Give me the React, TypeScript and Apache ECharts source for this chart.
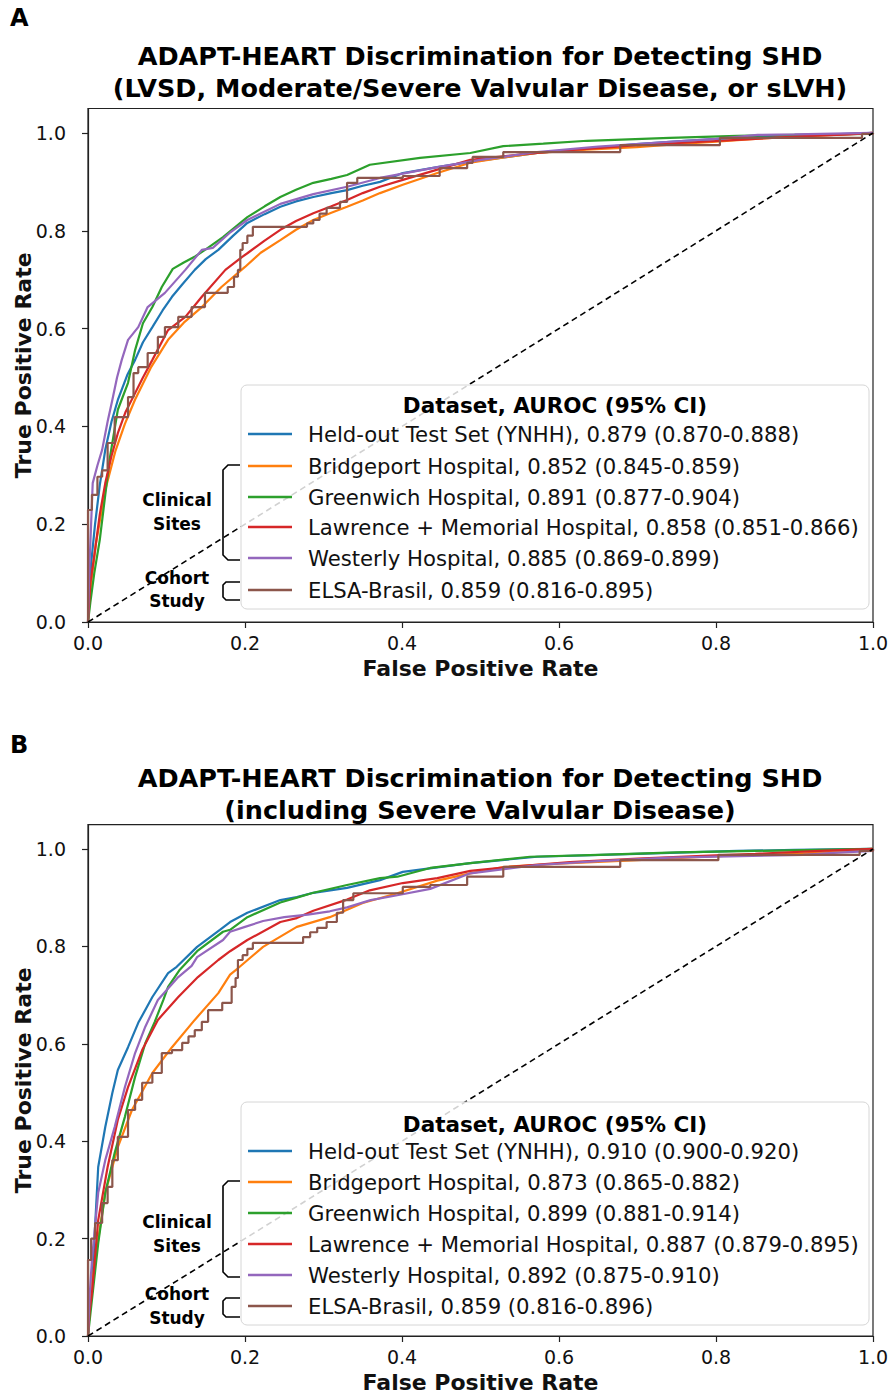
import React, { useEffect, useRef } from "react";
import * as echarts from "echarts";

const FONT = "'DejaVu Sans', sans-serif";

const datasetNames = [
  "Held-out Test Set (YNHH)",
  "Bridgeport Hospital",
  "Greenwich Hospital",
  "Lawrence + Memorial Hospital",
  "Westerly Hospital",
  "ELSA-Brasil",
];
const colors = ["#1f77b4", "#ff7f0e", "#2ca02c", "#d62728", "#9467bd", "#8c564b"];
const aurocA = [
  "0.879 (0.870-0.888)",
  "0.852 (0.845-0.859)",
  "0.891 (0.877-0.904)",
  "0.858 (0.851-0.866)",
  "0.885 (0.869-0.899)",
  "0.859 (0.816-0.895)",
];
const aurocB = [
  "0.910 (0.900-0.920)",
  "0.873 (0.865-0.882)",
  "0.899 (0.881-0.914)",
  "0.887 (0.879-0.895)",
  "0.892 (0.875-0.910)",
  "0.859 (0.816-0.896)",
];
const xTicks = [0, 0.2, 0.4, 0.6, 0.8, 1.0];
const yTicks = [0, 0.2, 0.4, 0.6, 0.8, 1.0];
const diagonal = [[0, 0], [1, 1]];

// Panel A curves [FPR, TPR]
const aHeldOut = [[0,0],[0.004,0.12],[0.009,0.2],[0.015,0.28],[0.022,0.352],[0.030,0.41],[0.038,0.454],[0.050,0.505],[0.060,0.536],[0.070,0.572],[0.082,0.603],[0.095,0.637],[0.107,0.665],[0.120,0.69],[0.136,0.720],[0.150,0.742],[0.166,0.761],[0.185,0.790],[0.203,0.816],[0.225,0.834],[0.245,0.849],[0.265,0.860],[0.287,0.869],[0.31,0.877],[0.33,0.883],[0.35,0.892],[0.372,0.900],[0.401,0.918],[0.445,0.930],[0.487,0.941],[0.53,0.950],[0.572,0.959],[0.635,0.968],[0.699,0.977],[0.76,0.984],[0.827,0.990],[0.9,0.994],[0.95,0.997],[1,1]];
const aBridgeport = [[0,0],[0.004,0.08],[0.010,0.16],[0.022,0.27],[0.035,0.35],[0.047,0.405],[0.060,0.455],[0.080,0.52],[0.102,0.577],[0.122,0.612],[0.145,0.644],[0.17,0.685],[0.2,0.726],[0.22,0.755],[0.245,0.781],[0.265,0.802],[0.287,0.822],[0.31,0.837],[0.33,0.849],[0.35,0.862],[0.372,0.877],[0.401,0.894],[0.445,0.918],[0.487,0.939],[0.53,0.95],[0.572,0.959],[0.635,0.966],[0.699,0.971],[0.75,0.977],[0.8,0.982],[0.85,0.988],[0.9,0.992],[0.95,0.996],[1,1]];
const aGreenwich = [[0,0],[0.003,0.04],[0.008,0.1],[0.015,0.168],[0.022,0.26],[0.028,0.337],[0.038,0.434],[0.051,0.489],[0.060,0.556],[0.070,0.611],[0.082,0.644],[0.094,0.685],[0.108,0.722],[0.122,0.735],[0.137,0.748],[0.150,0.762],[0.172,0.787],[0.203,0.828],[0.225,0.850],[0.245,0.869],[0.265,0.884],[0.287,0.898],[0.31,0.906],[0.33,0.914],[0.359,0.935],[0.423,0.949],[0.487,0.959],[0.529,0.973],[0.58,0.978],[0.636,0.984],[0.741,0.990],[0.827,0.994],[0.9,0.996],[0.996,0.998],[1,1]];
const aLawrence = [[0,0],[0.003,0.08],[0.009,0.147],[0.015,0.22],[0.022,0.284],[0.030,0.34],[0.038,0.386],[0.048,0.43],[0.060,0.468],[0.070,0.5],[0.082,0.536],[0.102,0.597],[0.124,0.624],[0.145,0.665],[0.175,0.720],[0.196,0.746],[0.203,0.754],[0.225,0.78],[0.245,0.802],[0.265,0.82],[0.287,0.836],[0.31,0.85],[0.33,0.863],[0.35,0.877],[0.372,0.890],[0.401,0.904],[0.445,0.925],[0.487,0.945],[0.55,0.956],[0.614,0.965],[0.7,0.975],[0.783,0.982],[0.85,0.988],[0.92,0.994],[0.97,0.997],[1,1]];
const aWesterly = [[0,0],[0.002,0.12],[0.006,0.284],[0.012,0.32],[0.018,0.352],[0.025,0.41],[0.031,0.454],[0.037,0.5],[0.043,0.536],[0.051,0.577],[0.064,0.603],[0.076,0.644],[0.098,0.673],[0.124,0.720],[0.145,0.761],[0.159,0.765],[0.18,0.795],[0.203,0.822],[0.245,0.855],[0.287,0.875],[0.33,0.890],[0.372,0.908],[0.445,0.930],[0.5,0.945],[0.572,0.961],[0.65,0.972],[0.741,0.982],[0.8,0.988],[0.853,0.996],[0.9,0.997],[1,1]];
const aElsa = [[0,0],[0,0.229],[0.005,0.229],[0.005,0.26],[0.012,0.26],[0.012,0.297],[0.018,0.297],[0.018,0.31],[0.025,0.31],[0.025,0.366],[0.034,0.366],[0.034,0.419],[0.051,0.419],[0.051,0.46],[0.058,0.46],[0.058,0.509],[0.064,0.509],[0.064,0.521],[0.076,0.521],[0.076,0.55],[0.089,0.55],[0.089,0.583],[0.098,0.583],[0.098,0.603],[0.115,0.603],[0.115,0.624],[0.132,0.624],[0.132,0.644],[0.149,0.644],[0.149,0.673],[0.178,0.673],[0.178,0.685],[0.186,0.685],[0.186,0.706],[0.191,0.706],[0.191,0.720],[0.194,0.720],[0.194,0.761],[0.197,0.761],[0.197,0.775],[0.203,0.775],[0.203,0.79],[0.21,0.79],[0.21,0.808],[0.279,0.808],[0.279,0.815],[0.287,0.815],[0.287,0.822],[0.295,0.822],[0.295,0.835],[0.304,0.835],[0.304,0.847],[0.321,0.847],[0.321,0.859],[0.33,0.859],[0.33,0.898],[0.343,0.898],[0.343,0.908],[0.401,0.908],[0.401,0.912],[0.448,0.912],[0.448,0.928],[0.483,0.928],[0.483,0.939],[0.49,0.939],[0.49,0.951],[0.529,0.951],[0.529,0.961],[0.678,0.961],[0.678,0.975],[0.805,0.975],[0.805,0.99],[0.986,0.99],[0.986,0.998],[1,0.998],[1,1]];

// Panel B curves [FPR, TPR]
const bHeldOut = [[0,0],[0.002,0.05],[0.005,0.088],[0.009,0.224],[0.013,0.347],[0.022,0.429],[0.031,0.499],[0.038,0.546],[0.051,0.593],[0.064,0.643],[0.082,0.696],[0.102,0.745],[0.113,0.758],[0.139,0.799],[0.168,0.834],[0.181,0.850],[0.203,0.869],[0.245,0.895],[0.266,0.901],[0.287,0.91],[0.33,0.92],[0.372,0.936],[0.401,0.953],[0.445,0.962],[0.487,0.971],[0.572,0.984],[0.699,0.99],[0.827,0.996],[0.9,0.998],[1,1]];
const bBridgeport = [[0,0],[0.003,0.08],[0.009,0.156],[0.022,0.294],[0.038,0.388],[0.056,0.464],[0.082,0.54],[0.107,0.593],[0.136,0.649],[0.166,0.704],[0.181,0.742],[0.191,0.755],[0.223,0.799],[0.266,0.84],[0.308,0.86],[0.35,0.889],[0.394,0.909],[0.445,0.935],[0.487,0.95],[0.529,0.963],[0.6,0.97],[0.699,0.977],[0.8,0.985],[0.9,0.99],[0.95,0.994],[1,1]];
const bGreenwich = [[0,0],[0.002,0.03],[0.005,0.074],[0.013,0.19],[0.022,0.294],[0.034,0.376],[0.047,0.45],[0.060,0.532],[0.073,0.601],[0.085,0.645],[0.096,0.69],[0.102,0.717],[0.117,0.752],[0.139,0.79],[0.172,0.83],[0.181,0.834],[0.203,0.860],[0.245,0.89],[0.266,0.9],[0.287,0.91],[0.33,0.926],[0.372,0.94],[0.394,0.943],[0.436,0.961],[0.487,0.971],[0.563,0.984],[0.65,0.988],[0.75,0.993],[0.85,0.996],[1,1]];
const bLawrence = [[0,0],[0.002,0.05],[0.005,0.088],[0.013,0.238],[0.025,0.347],[0.038,0.444],[0.051,0.511],[0.069,0.587],[0.089,0.649],[0.115,0.696],[0.14,0.737],[0.166,0.772],[0.181,0.79],[0.203,0.813],[0.245,0.850],[0.266,0.858],[0.287,0.873],[0.33,0.896],[0.359,0.915],[0.401,0.93],[0.445,0.94],[0.487,0.955],[0.55,0.965],[0.614,0.973],[0.7,0.98],[0.783,0.986],[0.85,0.99],[0.933,0.996],[1,1]];
const bWesterly = [[0,0],[0.002,0.08],[0.005,0.156],[0.013,0.294],[0.022,0.361],[0.034,0.429],[0.047,0.511],[0.06,0.581],[0.073,0.635],[0.089,0.69],[0.115,0.737],[0.132,0.76],[0.139,0.778],[0.172,0.813],[0.181,0.83],[0.2,0.84],[0.223,0.852],[0.25,0.86],[0.28,0.865],[0.308,0.872],[0.33,0.88],[0.36,0.895],[0.394,0.905],[0.436,0.918],[0.487,0.95],[0.572,0.967],[0.65,0.975],[0.741,0.982],[0.911,0.988],[0.95,0.992],[1,0.996],[1,1]];
const bElsa = [[0,0],[0,0.156],[0.004,0.156],[0.004,0.2],[0.009,0.2],[0.009,0.232],[0.018,0.232],[0.018,0.273],[0.025,0.273],[0.025,0.306],[0.031,0.306],[0.031,0.361],[0.038,0.361],[0.038,0.409],[0.051,0.409],[0.051,0.464],[0.06,0.464],[0.06,0.485],[0.069,0.485],[0.069,0.52],[0.082,0.52],[0.082,0.54],[0.094,0.54],[0.094,0.581],[0.107,0.581],[0.107,0.587],[0.12,0.587],[0.12,0.602],[0.128,0.602],[0.128,0.615],[0.136,0.615],[0.136,0.628],[0.145,0.628],[0.145,0.645],[0.153,0.645],[0.153,0.669],[0.171,0.669],[0.171,0.684],[0.183,0.684],[0.183,0.717],[0.188,0.717],[0.188,0.735],[0.191,0.735],[0.191,0.772],[0.197,0.772],[0.197,0.782],[0.203,0.782],[0.203,0.795],[0.21,0.795],[0.21,0.807],[0.274,0.807],[0.274,0.819],[0.283,0.819],[0.283,0.829],[0.292,0.829],[0.292,0.838],[0.304,0.838],[0.304,0.85],[0.317,0.85],[0.317,0.869],[0.325,0.869],[0.325,0.895],[0.338,0.895],[0.338,0.909],[0.401,0.909],[0.401,0.922],[0.436,0.922],[0.436,0.926],[0.483,0.926],[0.483,0.943],[0.529,0.943],[0.529,0.963],[0.678,0.963],[0.678,0.977],[0.803,0.977],[0.803,0.988],[0.983,0.988],[0.983,0.996],[1,0.996],[1,1]];

const curvesA = [aHeldOut, aBridgeport, aGreenwich, aLawrence, aWesterly, aElsa];
const curvesB = [bHeldOut, bBridgeport, bGreenwich, bLawrence, bWesterly, bElsa];

const titleA = ["ADAPT-HEART Discrimination for Detecting SHD", "(LVSD, Moderate/Severe Valvular Disease, or sLVH)"];
const titleB = ["ADAPT-HEART Discrimination for Detecting SHD", "(including Severe Valvular Disease)"];

function makeAxes(idx: number) {
  const x = {
    type: "value",
    gridIndex: idx,
    min: 0,
    max: 1,
    interval: 0.2,
    axisLine: { show: true, lineStyle: { color: "#222", width: 1.2 } },
    axisTick: { show: true, length: 6, lineStyle: { color: "#222", width: 1.2 }, customValues: xTicks },
    axisLabel: { fontSize: 19, fontFamily: FONT, color: "#111", margin: 11, customValues: xTicks, formatter: (v: number) => v.toFixed(1) },
    splitLine: { show: false },
    name: "False Positive Rate",
    nameLocation: "middle",
    nameGap: 35,
    nameMoveOverlap: false,
    nameTextStyle: { fontSize: 22, fontWeight: "bold", fontFamily: FONT, color: "#111" },
  };
  const y = {
    type: "value",
    gridIndex: idx,
    min: 0,
    max: 1.05,
    interval: 0.2,
    axisLine: { show: true, lineStyle: { color: "#222", width: 1.2 } },
    axisTick: { show: true, length: 6, lineStyle: { color: "#222", width: 1.2 }, customValues: yTicks },
    axisLabel: { fontSize: 19, fontFamily: FONT, color: "#111", margin: 22, customValues: yTicks, formatter: (v: number) => (v > 1.001 ? "" : v.toFixed(1)) },
    splitLine: { show: false },
    name: "True Positive Rate",
    nameLocation: "middle",
    nameRotate: 90,
    nameGap: 54,
    nameMoveOverlap: false,
    nameTextStyle: { fontSize: 22, fontWeight: "bold", fontFamily: FONT, color: "#111" },
  };
  return { x, y };
}

function panelGraphics(
  letter: string,
  letterY: number,
  titles: string[],
  titleY: number[],
  auroc: string[],
  box: { x: number; y: number; w: number; h: number },
  titleRowY: number,
  rowY: number[],
  clin: { top: number; bottom: number; labelY: number[] },
  coh: { top: number; bottom: number; labelY: number[] }
) {
  const els: any[] = [];
  els.push({ type: "text", left: 10, top: letterY, z: 100, style: { text: letter, font: `bold 24px ${FONT}`, fill: "#000" } });
  titles.forEach((t, i) => {
    els.push({ type: "text", x: 480, y: titleY[i], z: 100, style: { text: t, font: `bold 25.5px ${FONT}`, fill: "#000", align: "center", verticalAlign: "middle" } });
  });
  els.push({ type: "rect", z: 100, shape: { x: box.x, y: box.y, width: box.w, height: box.h, r: 6 }, style: { fill: "rgba(255,255,255,0.82)", stroke: "#d6d6d6", lineWidth: 1 } });
  els.push({ type: "text", z: 101, x: box.x + box.w / 2, y: titleRowY, style: { text: "Dataset, AUROC (95% CI)", font: `bold 21.5px ${FONT}`, fill: "#000", align: "center", verticalAlign: "middle" } });
  datasetNames.forEach((n, i) => {
    els.push({ type: "line", z: 101, shape: { x1: 248, y1: rowY[i], x2: 292, y2: rowY[i] }, style: { stroke: colors[i], lineWidth: 2.4 } });
    els.push({ type: "text", z: 101, x: 308, y: rowY[i], style: { text: `${n}, ${auroc[i]}`, font: `21.2px ${FONT}`, fill: "#111", align: "left", verticalAlign: "middle" } });
  });
  const bx = 223;
  const arm = 240;
  els.push({ type: "polyline", z: 101, shape: { points: [[arm, clin.top], [bx + 5, clin.top], [bx, clin.top + 5], [bx, clin.bottom - 5], [bx + 5, clin.bottom], [arm, clin.bottom]] }, style: { stroke: "#000", lineWidth: 1.6, fill: null } });
  els.push({ type: "polyline", z: 101, shape: { points: [[arm, coh.top], [bx + 3, coh.top], [bx, coh.top + 3], [bx, coh.bottom - 3], [bx + 3, coh.bottom], [arm, coh.bottom]] }, style: { stroke: "#000", lineWidth: 1.6, fill: null } });
  [["Clinical", clin.labelY[0]], ["Sites", clin.labelY[1]], ["Cohort", coh.labelY[0]], ["Study", coh.labelY[1]]].forEach(([t, yy]) => {
    els.push({ type: "text", z: 101, x: 177, y: yy as number, style: { text: t as string, font: `bold 17px ${FONT}`, fill: "#000", align: "center", verticalAlign: "middle" } });
  });
  return els;
}

export default function App() {
  const ref = useRef<HTMLDivElement>(null);
  useEffect(() => {
    if (!ref.current) return;
    const chart = echarts.init(ref.current, undefined, { renderer: "svg" });
    const axA = makeAxes(0);
    const axB = makeAxes(1);
    const series: any[] = [];
    [curvesA, curvesB].forEach((curves, p) => {
      curves.forEach((d, i) => {
        series.push({
          type: "line",
          name: `${datasetNames[i]} ${p}`,
          xAxisIndex: p,
          yAxisIndex: p,
          data: d,
          showSymbol: false,
          symbol: "none",
          silent: true,
          z: 2 + i * 0.01,
          lineStyle: { color: colors[i], width: 2.2 },
          itemStyle: { color: colors[i] },
        });
      });
      series.push({
        type: "line",
        name: `chance ${p}`,
        xAxisIndex: p,
        yAxisIndex: p,
        data: diagonal,
        showSymbol: false,
        symbol: "none",
        silent: true,
        z: 3,
        lineStyle: { color: "#000", width: 1.6, type: [6, 4] },
      });
    });
    const graphics = [
      ...panelGraphics(
        "A", 6, titleA, [56, 88], aurocA,
        { x: 241, y: 385, w: 628, h: 224 }, 405,
        [434, 466, 497, 527, 558, 590],
        { top: 465, bottom: 560, labelY: [500, 524] },
        { top: 582, bottom: 600, labelY: [578, 601] }
      ),
      ...panelGraphics(
        "B", 733, titleB, [778, 810], aurocB,
        { x: 241, y: 1102, w: 628, h: 223 }, 1124,
        [1151, 1182, 1213, 1244, 1275, 1306],
        { top: 1181, bottom: 1277, labelY: [1222, 1246] },
        { top: 1298, bottom: 1317, labelY: [1294, 1318] }
      ),
    ];
    chart.setOption({
      animation: false,
      backgroundColor: "#fff",
      textStyle: { fontFamily: FONT },
      grid: [
        { left: 88, top: 108.5, width: 785, height: 513.5, show: true, borderColor: "#222", borderWidth: 1.2, containLabel: false, outerBoundsMode: "none" },
        { left: 88, top: 824.6, width: 785, height: 511.4, show: true, borderColor: "#222", borderWidth: 1.2, containLabel: false, outerBoundsMode: "none" },
      ],
      xAxis: [axA.x, axB.x],
      yAxis: [axA.y, axB.y],
      series,
      graphic: graphics,
    });
    return () => chart.dispose();
  }, []);
  return <div ref={ref} style={{ position: "absolute", left: 0, top: 0, width: 896, height: 1395, background: "#fff" }} />;
}
